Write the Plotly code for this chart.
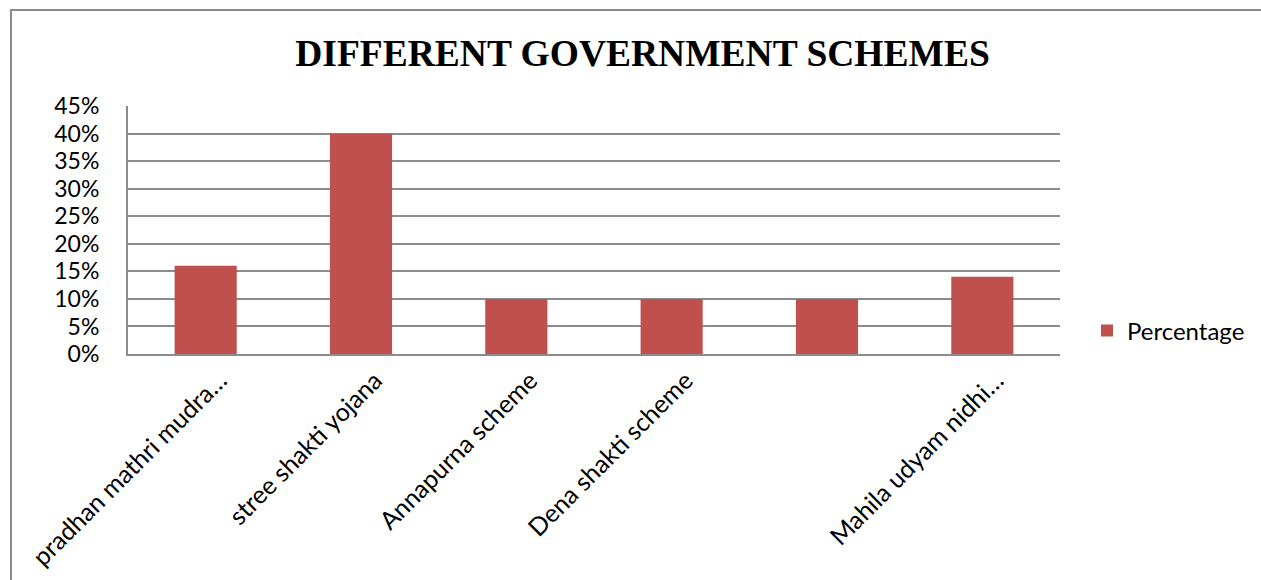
import plotly.graph_objects as go

# Schemes and the share of respondents using each
categories = [
    "pradhan mathri mudra…",
    "stree shakti yojana",
    "Annapurna scheme",
    "Dena shakti scheme",
    "",
    "Mahila udyam nidhi…",
]
percentage = [0.16, 0.40, 0.10, 0.10, 0.10, 0.14]
y_ticks = [0, 0.05, 0.10, 0.15, 0.20, 0.25, 0.30, 0.35, 0.40, 0.45]
y_labels = ["0%", "5%", "10%", "15%", "20%", "25%", "30%", "35%", "40%", "45%"]

W, H = 1261, 580
L, R, T, B = 128, 201, 106, 226
pw, ph = W - L - R, H - T - B

positions = list(range(len(categories)))

fig = go.Figure(
    go.Bar(
        x=positions,
        y=percentage,
        name="Percentage",
        marker=dict(color="#C0504D", line=dict(width=0)),
        showlegend=True,
    )
)

grid = "#8c8c8c"
family = "Lato, Carlito, Calibri, sans-serif"

fig.update_layout(
    width=W,
    height=H,
    margin=dict(l=L, r=R, t=T, b=B, autoexpand=False),
    paper_bgcolor="white",
    plot_bgcolor="white",
    bargap=0.6,
    title=dict(
        text="<b>DIFFERENT GOVERNMENT SCHEMES</b>",
        font=dict(family="Liberation Serif, Times New Roman, serif", size=37.5, color="#000000"),
        x=642.5 / W,
        xanchor="center",
        y=1 - 53 / H,
        yanchor="middle",
    ),
    xaxis=dict(
        range=[-0.5, len(categories) - 0.5],
        tickvals=positions,
        ticktext=categories,
        tickangle=-45,
        tickfont=dict(family=family, size=25, color="#000000"),
        ticklabelshift=14,
        automargin=False,
        showgrid=False,
        showline=True,
        linecolor=grid,
        linewidth=2,
        ticks="",
        fixedrange=True,
    ),
    yaxis=dict(
        range=[0, 0.45],
        tickvals=y_ticks,
        ticktext=y_labels,
        tickfont=dict(family=family, size=23, color="#000000"),
        ticklabelstandoff=22,
        automargin=False,
        showgrid=True,
        gridcolor=grid,
        gridwidth=2,
        showline=True,
        linecolor=grid,
        linewidth=2,
        zeroline=False,
        ticks="",
        ticklen=0,
        fixedrange=True,
    ),
    legend=dict(
        x=(1087 - L) / pw,
        xanchor="left",
        y=(H - B - 331) / ph,
        yanchor="middle",
        font=dict(family=family, size=24, color="#000000"),
        bgcolor="rgba(0,0,0,0)",
        itemwidth=30,
    ),
    shapes=[
        dict(
            type="rect",
            xref="paper",
            yref="paper",
            x0=(11 - L) / pw,
            x1=(W + 20 - L) / pw,
            y0=(H - B - (H + 20)) / ph,
            y1=(H - B - 10) / ph,
            line=dict(color="#8c8c8c", width=2),
            fillcolor="rgba(0,0,0,0)",
            layer="below",
        )
    ],
)

fig.write_html("out.html")
